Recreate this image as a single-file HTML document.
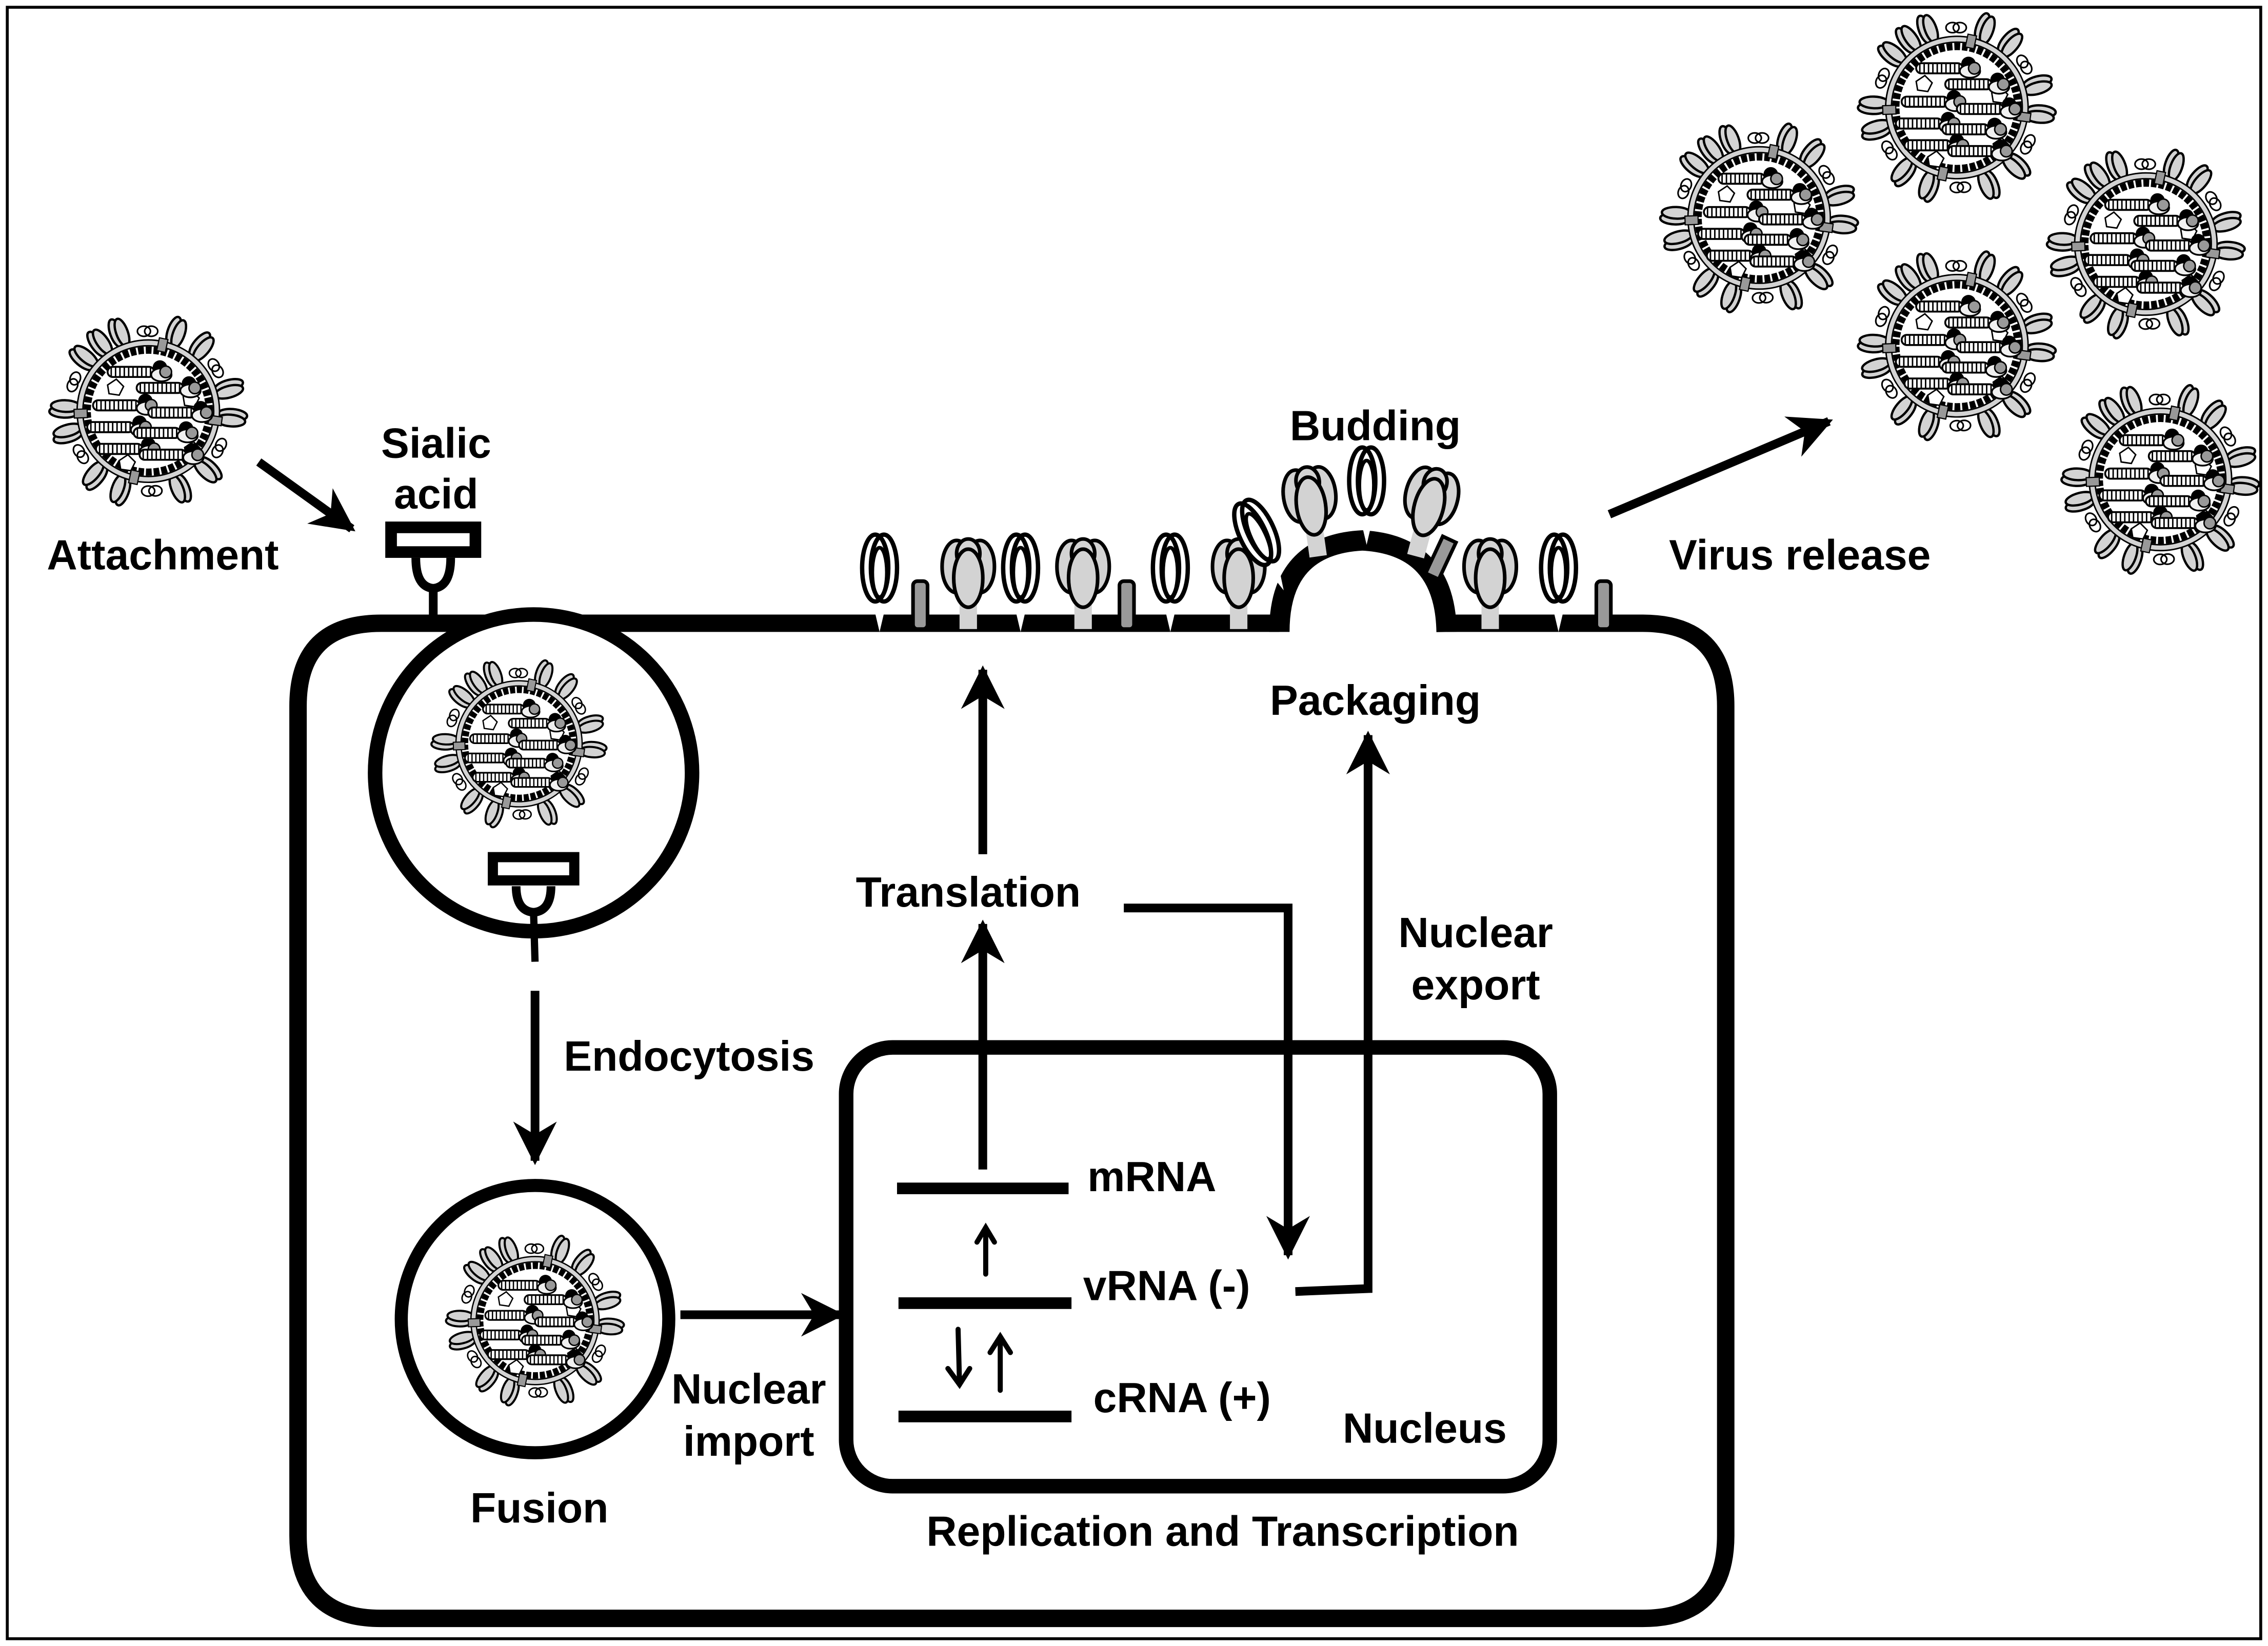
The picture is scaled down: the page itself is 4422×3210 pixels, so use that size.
<!DOCTYPE html>
<html><head><meta charset="utf-8"><style>
html,body{margin:0;padding:0;background:#fff}
svg{display:block}
text{font-family:"Liberation Sans",Arial,sans-serif;font-weight:bold;fill:#000}
</style></head><body>
<svg width="4422" height="3210" viewBox="0 0 1560 1133" preserveAspectRatio="none" xmlns="http://www.w3.org/2000/svg">
<defs>
<g id="ha"><ellipse cx="-2.5" cy="-58" rx="4" ry="10" fill="#d3d3d3" stroke="#000" stroke-width="1.6"/><ellipse cx="1.5" cy="-57" rx="4" ry="10" fill="#d3d3d3" stroke="#000" stroke-width="1.6"/></g>
<g id="na"><ellipse cx="-3" cy="-55" rx="4.5" ry="3.5" fill="#fff" stroke="#000" stroke-width="1.1"/><ellipse cx="2" cy="-55" rx="4.5" ry="3.5" fill="none" stroke="#000" stroke-width="1.1"/></g>
<g id="rnp"><rect x="-20" y="-3.5" width="32" height="7" rx="3.5" fill="#fff" stroke="#000" stroke-width="1.3"/><line x1="-18" y1="0" x2="11" y2="0" stroke="#000" stroke-width="6" stroke-dasharray="1 2"/><circle cx="16" cy="-3" r="5" fill="#000"/><ellipse cx="17" cy="2" rx="7" ry="4.5" fill="#f0f0f0" stroke="#000" stroke-width="1.2"/><circle cx="20" cy="0" r="4" fill="#999" stroke="#000" stroke-width="1"/></g>
<symbol id="virus" viewBox="-70 -70 140 140">
<use href="#ha" transform="rotate(-20)"/><use href="#na" transform="rotate(0)"/><use href="#ha" transform="rotate(20)"/><use href="#ha" transform="rotate(40)"/><use href="#na" transform="rotate(58)"/><use href="#ha" transform="rotate(75)"/><use href="#ha" transform="rotate(95)"/><use href="#na" transform="rotate(118)"/><use href="#ha" transform="rotate(135)"/><use href="#ha" transform="rotate(158)"/><use href="#na" transform="rotate(178)"/><use href="#ha" transform="rotate(200)"/><use href="#ha" transform="rotate(220)"/><use href="#na" transform="rotate(238)"/><use href="#ha" transform="rotate(255)"/><use href="#ha" transform="rotate(272)"/><use href="#na" transform="rotate(292)"/><use href="#ha" transform="rotate(310)"/><use href="#ha" transform="rotate(325)"/>
<circle r="47" fill="#fff" stroke="#000" stroke-width="5"/>
<circle r="47" fill="none" stroke="#d3d3d3" stroke-width="3"/>
<circle r="42" fill="none" stroke="#000" stroke-width="5" stroke-dasharray="4 1.3"/>
<rect x="-3" y="-51" width="6" height="9" fill="#999" stroke="#000" stroke-width="0.8" transform="rotate(12)"/>
<rect x="-3" y="-51" width="6" height="9" fill="#999" stroke="#000" stroke-width="0.8" transform="rotate(98)"/>
<rect x="-3" y="-51" width="6" height="9" fill="#999" stroke="#000" stroke-width="0.8" transform="rotate(192)"/>
<rect x="-3" y="-51" width="6" height="9" fill="#999" stroke="#000" stroke-width="0.8" transform="rotate(268)"/>
<polygon points="-28,-18 -22,-22 -17,-17 -20,-11 -27,-12" fill="#fff" stroke="#000" stroke-width="1"/>
<polygon points="24,-10 30,-14 35,-9 32,-3 25,-4" fill="#fff" stroke="#000" stroke-width="1"/>
<polygon points="25,25 31,21 36,26 33,32 26,31" fill="#fff" stroke="#000" stroke-width="1"/>
<polygon points="-20,34 -14,30 -9,35 -12,41 -19,40" fill="#fff" stroke="#000" stroke-width="1"/>
<use href="#rnp" x="-8" y="-27"/><use href="#rnp" x="12" y="-16"/><use href="#rnp" x="-18" y="-4"/><use href="#rnp" x="20" y="1"/><use href="#rnp" x="-22" y="11"/><use href="#rnp" x="10" y="15"/><use href="#rnp" x="-16" y="26"/><use href="#rnp" x="14" y="30"/>
</symbol>
<marker id="ah" viewBox="0 0 10 10" refX="9" refY="5" markerWidth="5" markerHeight="5" orient="auto" markerUnits="strokeWidth"><path d="M0,0 L10,5 L0,10 L3,5 Z" fill="#000"/></marker>
<g id="sHA"><rect x="-6" y="-20" width="12" height="25" fill="#d3d3d3"/><ellipse cx="-8" cy="-38" rx="10" ry="18" fill="#d3d3d3" stroke="#000" stroke-width="2.5"/><ellipse cx="8" cy="-38" rx="10" ry="18" fill="#d3d3d3" stroke="#000" stroke-width="2.5"/><ellipse cx="0" cy="-47" rx="8" ry="10" fill="#d3d3d3" stroke="#000" stroke-width="2.5"/><ellipse cx="0" cy="-30" rx="10" ry="20" fill="#d3d3d3" stroke="#000" stroke-width="2.5"/></g>
<g id="sNA"><path d="M-4,-10 L0,7 L4,-10Z" fill="#fff"/><ellipse cx="-3" cy="-37" rx="9" ry="23" fill="#fff" stroke="#000" stroke-width="3"/><ellipse cx="3" cy="-37" rx="9" ry="23" fill="none" stroke="#000" stroke-width="3"/><ellipse cx="0" cy="-34" rx="5" ry="17" fill="none" stroke="#000" stroke-width="2.5"/></g>
<g id="sM2"><rect x="-5" y="-28" width="10" height="33" rx="3" fill="#999" stroke="#000" stroke-width="2.5"/></g>
</defs>
<rect x="5" y="5" width="1550" height="1123" fill="#fff" stroke="#000" stroke-width="2"/>

<!-- cell -->
<path d="M880,429 L262,429 Q205,429 205,486 L205,1057 Q205,1114 262,1114 L1130,1114 Q1187,1114 1187,1057 L1187,486 Q1187,429 1130,429 L995,429" fill="none" stroke="#000" stroke-width="12"/>
<path d="M880,435 Q880,375 937,372 Q994,375 995,435" fill="none" stroke="#000" stroke-width="14"/>
<!-- surface proteins -->
<use href="#sNA" x="605" y="428"/><use href="#sM2" x="633" y="428"/><use href="#sHA" x="666" y="428"/><use href="#sNA" x="702" y="428"/><use href="#sHA" x="745" y="428"/><use href="#sM2" x="775" y="428"/><use href="#sNA" x="805" y="428"/><use href="#sHA" x="852" y="428"/>
<use href="#sNA" x="880" y="400" transform="rotate(-25 880 400)"/><use href="#sHA" x="906" y="378" transform="rotate(-8 906 378)"/><use href="#sNA" x="940" y="368"/><use href="#sHA" x="975" y="378" transform="rotate(15 975 378)"/>
<rect x="986" y="370" width="10" height="28" fill="#999" stroke="#000" stroke-width="2.5" transform="rotate(25 991 384)"/>
<use href="#sHA" x="1025" y="428"/><use href="#sNA" x="1072" y="428"/><use href="#sM2" x="1103" y="428"/>

<!-- receptor top -->
<rect x="269" y="363" width="58" height="17" fill="#fff" stroke="#000" stroke-width="8"/>
<path d="M286,384 Q286,404 298,405 Q310,404 310,384" fill="none" stroke="#000" stroke-width="6"/>
<line x1="298" y1="406" x2="298" y2="425" stroke="#000" stroke-width="6"/>

<!-- endosome -->
<circle cx="367" cy="532" r="109" fill="#fff" stroke="#000" stroke-width="10"/>
<use href="#virus" x="295" y="450" width="124" height="124"/>
<rect x="339" y="590" width="56" height="16" fill="#fff" stroke="#000" stroke-width="7"/>
<path d="M355,610 Q355,627 367,628 Q379,627 379,610" fill="none" stroke="#000" stroke-width="6"/>
<line x1="367" y1="628" x2="368" y2="662" stroke="#000" stroke-width="5"/>

<!-- fusion -->
<circle cx="368" cy="908" r="92" fill="#fff" stroke="#000" stroke-width="9"/>
<use href="#virus" x="305" y="846" width="126" height="126"/>

<!-- viruses outside -->
<use href="#virus" x="32" y="213" width="140" height="140"/>
<use href="#virus" x="1140" y="80" width="140" height="140"/>
<use href="#virus" x="1276" y="4" width="140" height="140"/>
<use href="#virus" x="1406" y="98" width="140" height="140"/>
<use href="#virus" x="1276" y="168" width="140" height="140"/>
<use href="#virus" x="1416" y="260" width="140" height="140"/>

<!-- nucleus -->
<rect x="582" y="721" width="484" height="302" rx="32" fill="none" stroke="#000" stroke-width="10"/>
<line x1="617" y1="818" x2="735" y2="818" stroke="#000" stroke-width="8"/>
<line x1="618" y1="897" x2="737" y2="897" stroke="#000" stroke-width="8"/>
<line x1="618" y1="975" x2="737" y2="975" stroke="#000" stroke-width="8"/>

<!-- arrows -->
<g stroke="#000" stroke-width="6" fill="none">
<line x1="178" y1="318" x2="242" y2="364" marker-end="url(#ah)"/>
<line x1="1107" y1="354" x2="1258" y2="290" marker-end="url(#ah)"/>
<line x1="368" y1="682" x2="368" y2="799" marker-end="url(#ah)"/>
<line x1="468" y1="905" x2="578" y2="905" marker-end="url(#ah)"/>
<line x1="676" y1="805" x2="676" y2="636" marker-end="url(#ah)"/>
<line x1="676" y1="588" x2="676" y2="461" marker-end="url(#ah)"/>
<polyline points="773,625 886,625 886,864" marker-end="url(#ah)"/>
<polyline points="891,889 941,887 941,506" marker-end="url(#ah)"/>
</g>
<g stroke="#000" stroke-width="3.5" fill="none" stroke-linecap="round">
<line x1="678" y1="877" x2="678" y2="845"/><polyline points="672,855 678,845 684,855"/>
<line x1="659" y1="915" x2="660" y2="953"/><polyline points="652,942 660,953 667,942"/>
<line x1="688" y1="957" x2="688" y2="920"/><polyline points="681,931 688,920 695,931"/>
</g>

<!-- labels -->
<g font-size="29" font-family="Liberation Sans, Arial, sans-serif" font-weight="bold">
<text x="300" y="315" text-anchor="middle">Sialic</text>
<text x="300" y="350" text-anchor="middle">acid</text>
<text x="112" y="392" text-anchor="middle">Attachment</text>
<text x="946" y="303" text-anchor="middle">Budding</text>
<text x="1238" y="392" text-anchor="middle">Virus release</text>
<text x="946" y="492" text-anchor="middle">Packaging</text>
<text x="666" y="624" text-anchor="middle">Translation</text>
<text x="1015" y="652" text-anchor="middle">Nuclear</text>
<text x="1015" y="688" text-anchor="middle">export</text>
<text x="474" y="737" text-anchor="middle">Endocytosis</text>
<text x="748" y="820">mRNA</text>
<text x="745" y="895">vRNA (-)</text>
<text x="752" y="972">cRNA (+)</text>
<text x="980" y="993" text-anchor="middle">Nucleus</text>
<text x="515" y="966" text-anchor="middle">Nuclear</text>
<text x="515" y="1002" text-anchor="middle">import</text>
<text x="371" y="1048" text-anchor="middle">Fusion</text>
<text x="841" y="1064" text-anchor="middle">Replication and Transcription</text>
</g>
</svg>
</body></html>
